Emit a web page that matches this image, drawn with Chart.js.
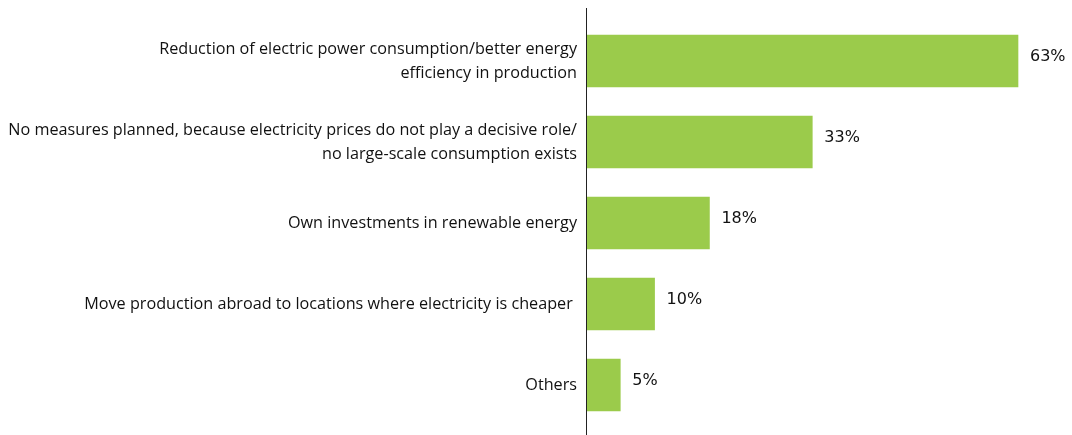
<!DOCTYPE html>
<html>
<head>
<meta charset="utf-8">
<script src="https://cdn.jsdelivr.net/npm/chart.js@4.4.1/dist/chart.umd.min.js"></script>
<style>
html,body{margin:0;padding:0;background:#fff;}
#wrap{width:1072px;height:435px;position:relative;}
</style>
</head>
<body>
<div id="wrap"><canvas id="c" width="1072" height="435"></canvas></div>
<script>
const categories = [
  ["Reduction of electric power consumption/better energy", "efficiency in production"],
  ["No measures planned, because electricity prices do not play a decisive role/", "no large-scale consumption exists"],
  ["Own investments in renewable energy"],
  ["Move production abroad to locations where electricity is cheaper "],
  ["Others"]
];
const values = [63, 33, 18, 10, 5];
const valueLabels = ["63%", "33%", "18%", "10%", "5%"];

const valueLabelPlugin = {
  id: 'valueLabels',
  afterDatasetsDraw(chart) {
    const ctx = chart.ctx;
    const meta = chart.getDatasetMeta(0);
    ctx.save();
    ctx.font = '16px "DejaVu Sans", sans-serif';
    ctx.fillStyle = '#111';
    ctx.textAlign = 'left';
    ctx.textBaseline = 'middle';
    meta.data.forEach((bar, i) => {
      ctx.fillText(valueLabels[i], bar.x + 12, bar.y - 4);
    });
    ctx.restore();
  }
};

const axisLinePlugin = {
  id: 'axisLine',
  afterDraw(chart) {
    const ctx = chart.ctx;
    const x = Math.round(chart.chartArea.left) + 0.5;
    ctx.save();
    ctx.strokeStyle = '#222';
    ctx.lineWidth = 1;
    ctx.beginPath();
    ctx.moveTo(x, 8);
    ctx.lineTo(x, chart.height);
    ctx.stroke();
    ctx.restore();
  }
};

new Chart(document.getElementById('c'), {
  type: 'bar',
  data: {
    labels: categories,
    datasets: [{
      data: values,
      backgroundColor: '#9BCB4B',
      borderWidth: 0,
      barThickness: 52
    }]
  },
  options: {
    indexAxis: 'y',
    responsive: false,
    animation: false,
    layout: { padding: { top: 20.5, bottom: 9.5, left: 0, right: 6 } },
    plugins: { legend: { display: false }, tooltip: { enabled: false } },
    scales: {
      x: { display: false, min: 0, max: 70 },
      y: {
        afterFit(scale) { scale.width = 586; scale.paddingTop = 0; scale.paddingBottom = 0; },
        grid: { display: false, drawTicks: false },
        border: { display: false },
        ticks: {
          color: '#111',
          padding: 9,
          font: { family: '"Open Sans", "Liberation Sans", sans-serif', size: 16.2, lineHeight: 1.48 }
        }
      }
    }
  },
  plugins: [valueLabelPlugin, axisLinePlugin]
});
</script>
</body>
</html>
